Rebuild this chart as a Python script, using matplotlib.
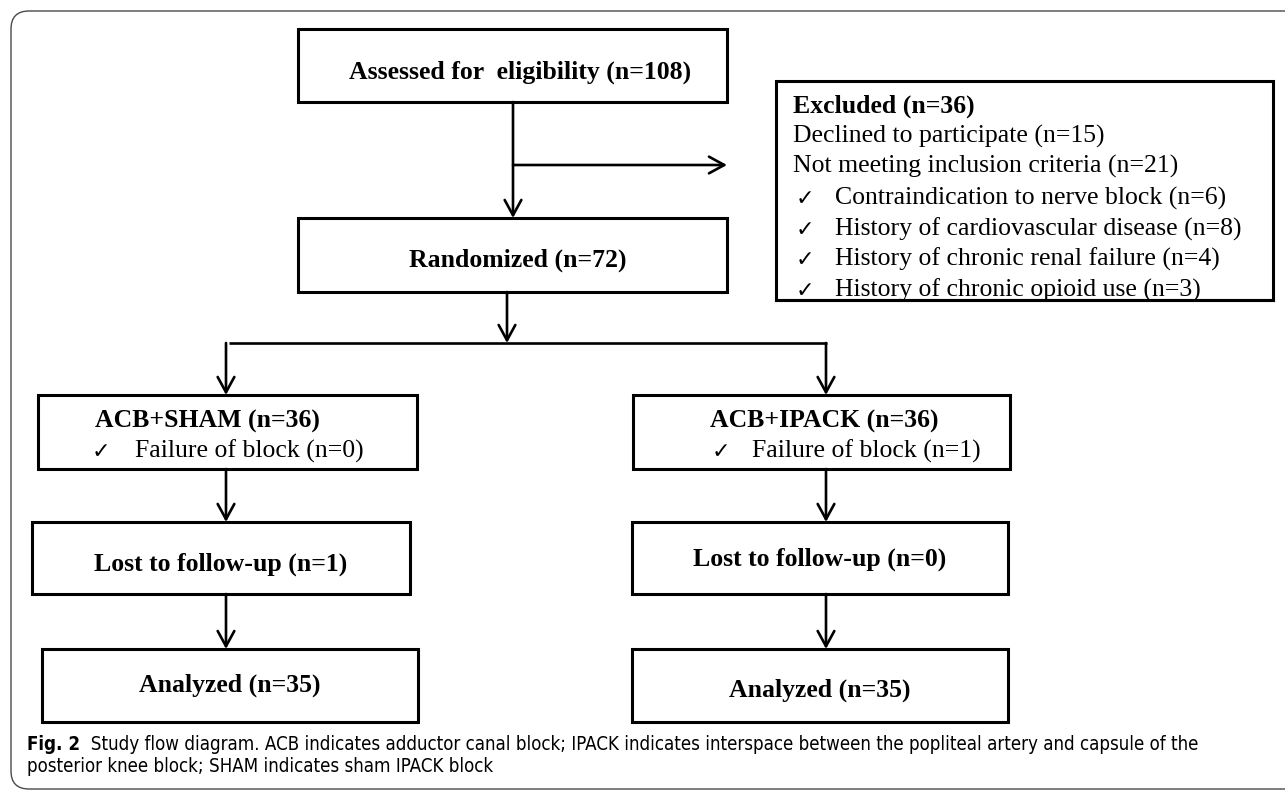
import matplotlib
matplotlib.use("Agg")
import matplotlib.pyplot as plt
from matplotlib.patches import Rectangle, FancyBboxPatch
from matplotlib import font_manager

# counts
assessed_n = 108
excluded_n = 36
declined_n = 15
not_meeting_n = 21
reasons = ["Contraindication to nerve block",
           "History of cardiovascular disease",
           "History of chronic renal failure",
           "History of chronic opioid use"]
reason_n = [6, 8, 4, 3]
randomized_n = 72
groups = ["ACB+SHAM", "ACB+IPACK"]
group_n = [36, 36]
failure_n = [0, 1]
lost_n = [1, 0]
analyzed_n = [35, 35]

caption_bold = "Fig. 2"
caption_lines = [
    "Study flow diagram. ACB indicates adductor canal block; IPACK indicates interspace between the popliteal artery and capsule of the",
    "posterior knee block; SHAM indicates sham IPACK block",
]

SERIF = ["Liberation Serif", "DejaVu Serif"]
FS = 18.5
BOX_LW = 2.2
ARR_LW = 1.9

# caption font: a narrow sans if one is there, else plain DejaVu made smaller
cap_prop = font_manager.FontProperties(family="DejaVu Sans", stretch="condensed")
cap_path = font_manager.findfont(cap_prop)
if "Condensed" in cap_path:
    cap_kw = dict(family="DejaVu Sans", fontstretch="condensed")
    cap_fs = 13.4
else:
    cap_kw = dict(family="DejaVu Sans")
    cap_fs = 12

fig = plt.figure(figsize=(12.85, 7.92), dpi=100)
ax = fig.add_axes([0, 0, 1, 1])
ax.set_xlim(0, 1285)
ax.set_ylim(792, 0)
ax.axis("off")

# outer rounded frame (runs off the right edge)
ax.add_patch(FancyBboxPatch((11, 11), 1300, 778,
                            boxstyle="round,pad=0,rounding_size=18",
                            fc="none", ec="#4a4a4a", lw=1.0, clip_on=False))


def box(x0, x1, y0, y1):
    ax.add_patch(Rectangle((x0, y0), x1 - x0, y1 - y0, fc="white",
                           ec="black", lw=BOX_LW))


def arrow(x0, y0, x1, y1):
    ax.annotate("", xy=(x1, y1), xytext=(x0, y0),
                arrowprops=dict(arrowstyle="->,head_length=0.55,head_width=0.3",
                                lw=ARR_LW, color="black", shrinkA=0, shrinkB=0,
                                mutation_scale=20))


def label(x, y, s, bold=False, ha="center", size=FS):
    ax.text(x, y, s, ha=ha, va="baseline", fontsize=size,
            family=SERIF, fontweight="bold" if bold else "normal")


def check(x, y):
    ax.text(x, y, "\u2713", ha="left", va="baseline", fontsize=16,
            family=["DejaVu Sans"])


# top part
box(298, 727, 29, 102)
label(520, 79, f"Assessed for  eligibility (n={assessed_n})", bold=True)
arrow(513, 102, 513, 218)
arrow(513, 165, 727, 165)
box(298, 727, 218, 292)
label(518, 267, f"Randomized (n={randomized_n})", bold=True)

# excluded box
box(776, 1273, 81, 300)
ex_base = [113, 143, 173, 205, 236, 266, 297]
label(793, ex_base[0], f"Excluded (n={excluded_n})", bold=True, ha="left")
label(793, ex_base[1], f"Declined to participate (n={declined_n})", ha="left")
label(793, ex_base[2], f"Not meeting inclusion criteria (n={not_meeting_n})", ha="left")
for yb, r, n in zip(ex_base[3:], reasons, reason_n):
    check(796, yb)
    label(835, yb, f"{r} (n={n})", ha="left")
# bottom border of the excluded box sits over the last line
ax.plot([776, 1273], [300, 300], color="black", lw=BOX_LW)

# split
arrow(507, 292, 507, 343)
ax.plot([229, 827], [343, 343], color="black", lw=ARR_LW, solid_capstyle="butt")

col_x = [226, 826]
grp_box = [(38, 417), (633, 1010)]
grp_text_x = [95, 710]
chk_x = [92, 712]
fail_x = [135, 752]
lost_box = [(32, 410), (632, 1008)]
lost_base = [571, 566]
ana_box = [(42, 418), (632, 1008)]
ana_base = [692, 697]

for i in range(2):
    cx = col_x[i]
    arrow(cx, 343, cx, 395)
    box(grp_box[i][0], grp_box[i][1], 395, 469)
    label(grp_text_x[i], 428, f"{groups[i]} (n={group_n[i]})", bold=True, ha="left")
    check(chk_x[i], 458)
    label(fail_x[i], 458, f"Failure of block (n={failure_n[i]})", ha="left")
    arrow(cx, 469, cx, 522)
    box(lost_box[i][0], lost_box[i][1], 522, 594)
    label((lost_box[i][0] + lost_box[i][1]) / 2, lost_base[i],
          f"Lost to follow-up (n={lost_n[i]})", bold=True)
    arrow(cx, 594, cx, 649)
    box(ana_box[i][0], ana_box[i][1], 649, 722)
    label((ana_box[i][0] + ana_box[i][1]) / 2, ana_base[i],
          f"Analyzed (n={analyzed_n[i]})", bold=True)

# caption
t1 = ax.text(27, 750, caption_bold, ha="left", va="baseline", fontsize=cap_fs,
             fontweight="bold", **cap_kw)
ax.annotate("  " + caption_lines[0], xy=(1, 0), xycoords=t1, ha="left",
            va="bottom", fontsize=cap_fs, **cap_kw)
ax.text(27, 772, caption_lines[1], ha="left", va="baseline", fontsize=cap_fs,
        **cap_kw)

fig.savefig("out.png", dpi=100)
